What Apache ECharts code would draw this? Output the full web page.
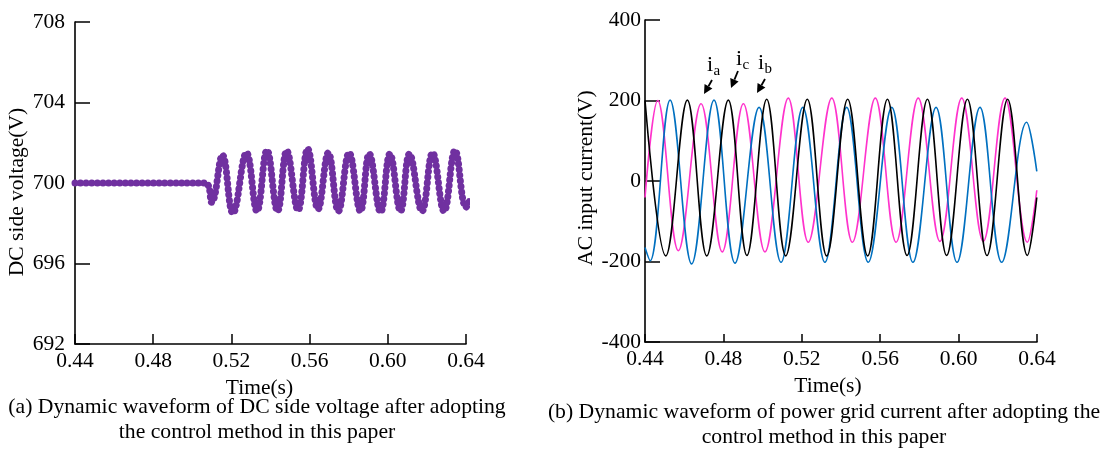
<!DOCTYPE html>
<html><head><meta charset="utf-8">
<script src="https://cdn.jsdelivr.net/npm/echarts@6/dist/echarts.min.js"></script>
<style>html,body{margin:0;padding:0;background:#fff}#c{width:1107px;height:450px}</style>
</head><body><div id="c"></div>
<script>
// ---------- data ----------
const xTickMin = 0.44, xTickMax = 0.64, xTickStep = 0.04;
// (a) DC side voltage
const dcTime = [0.4400,0.5065,0.5099,0.5154,0.5208,0.5277,0.5331,0.5382,0.5436,0.5483,0.5541,0.5590,0.5643,0.5696,0.5747,0.5802,0.5860,0.5905,0.5963,0.6011,0.6065,0.6111,0.6175,0.6229,0.6288,0.6344,0.6400,0.6420];
const dcVolt = [700.00,700.00,699.05,701.38,698.50,701.50,698.60,701.63,698.60,701.60,698.65,701.70,698.70,701.50,698.60,701.50,698.60,701.45,698.55,701.45,698.60,701.45,698.60,701.50,698.60,701.62,698.80,699.15];
// (b) grid currents
const iaTime = [0.4400,0.4465,0.4570,0.4686,0.4794,0.4902,0.5012,0.5131,0.5233,0.5353,0.5458,0.5575,0.5681,0.5794,0.5905,0.6016,0.6126,0.6237,0.6351,0.6399];
const iaVal  = [-41,200,-173,192,-176,192,-176,206,-152,206,-152,206,-152,206,-150,206,-150,206,-152,-23];
const ibTime = [0.4400,0.4426,0.4528,0.4638,0.4752,0.4859,0.4982,0.5094,0.5205,0.5318,0.5429,0.5539,0.5659,0.5767,0.5885,0.5992,0.6109,0.6220,0.6347,0.6399];
const ibVal  = [-165,-198,201,-206,201,-204,183,-202,183,-202,183,-202,183,-202,183,-202,183,-202,146,24];
const icTime = [0.4400,0.4506,0.4616,0.4715,0.4825,0.4920,0.5021,0.5118,0.5228,0.5327,0.5434,0.5536,0.5637,0.5737,0.5841,0.5939,0.6045,0.6145,0.6250,0.6351,0.6399];
const icVal  = [200,-186,201,-186,201,-185,203,-186,203,-186,203,-186,203,-185,203,-185,203,-185,203,-185,-41];

const zip = (a, b) => a.map((t, i) => [t, b[i]]);
const FONT = '"Liberation Serif","Times New Roman",serif';

function xAxisCfg(grid, tickLen, namePad) {
  return {
    gridIndex: grid, type: 'value', min: xTickMin, max: xTickMax, interval: xTickStep,
    axisLine: {onZero: false, lineStyle: {color: '#000', width: 1.6}},
    axisTick: {inside: true, length: tickLen, lineStyle: {color: '#000', width: 1.5}},
    axisLabel: {color: '#000', fontSize: 21.5, fontFamily: FONT, margin: 6, formatter: v => v.toFixed(2)},
    splitLine: {show: false},
    name: 'Time(s)', nameLocation: 'middle', nameGap: 28,
    nameTextStyle: {color: '#000', fontSize: 21.5, fontFamily: FONT, padding: [0, namePad, 0, 0]}
  };
}
function yAxisCfg(grid, min, max, step, name, margin, gap, pad) {
  return {
    gridIndex: grid, type: 'value', min: min, max: max, interval: step,
    axisLine: {onZero: false, lineStyle: {color: '#000', width: 1.6}},
    axisTick: {inside: true, length: 15, lineStyle: {color: '#000', width: 1.5}},
    axisLabel: {color: '#000', fontSize: 21.5, fontFamily: FONT, margin: margin},
    splitLine: {show: false},
    name: name, nameLocation: 'middle', nameGap: gap,
    nameTextStyle: {color: '#000', fontSize: 21.5, fontFamily: FONT, padding: pad}
  };
}

function arrow(x1, y1, x2, y2) {
  const ang = Math.atan2(y2 - y1, x2 - x1), L = 9, W = 4.5;
  const bx = x2 - L * Math.cos(ang), by = y2 - L * Math.sin(ang);
  const px = -Math.sin(ang) * W, py = Math.cos(ang) * W;
  return [
    {type: 'line', shape: {x1, y1, x2: bx, y2: by}, style: {stroke: '#000', lineWidth: 1.8}},
    {type: 'polygon', shape: {points: [[x2, y2], [bx + px, by + py], [bx - px, by - py]]}, style: {fill: '#000'}}
  ];
}
function label(x, y, main, sub) {
  return [
    {type: 'text', x: x, y: y, style: {text: main, font: '22px ' + FONT, fill: '#000', textVerticalAlign: 'bottom'}},
    {type: 'text', x: x + 6.5, y: y + 3, style: {text: sub, font: '15px ' + FONT, fill: '#000', textVerticalAlign: 'bottom'}}
  ];
}
function caption(cx, cy, txt) {
  return {type: 'text', x: cx, y: cy, style: {text: txt, font: '21.7px ' + FONT, fill: '#000', textAlign: 'center', textVerticalAlign: 'middle'}};
}

const chart = echarts.init(document.getElementById('c'), null, {renderer: 'canvas'});
chart.setOption({
  backgroundColor: '#fff',
  animation: false,
  grid: [
    {left: 75, top: 22, width: 391, height: 322},
    {left: 645, top: 20, width: 392, height: 322}
  ],
  xAxis: [xAxisCfg(0, 10, 22), xAxisCfg(1, 8, 26)],
  yAxis: [
    yAxisCfg(0, 692, 708, 4, 'DC side voltage(V)', 10, 36, [0, 18, 0, 0]),
    yAxisCfg(1, -400, 400, 200, 'AC input current(V)', 4, 38, [0, 0, 0, 6])
  ],
  series: [
    {type: 'line', xAxisIndex: 0, yAxisIndex: 0, data: zip(dcTime, dcVolt), smooth: 0.42, showSymbol: false, clip: false,
     lineStyle: {color: '#7030a0', width: 7, type: [0.1, 5.5], cap: 'round'}},
    {type: 'line', xAxisIndex: 1, yAxisIndex: 1, name: 'ia', data: zip(iaTime, iaVal), smooth: 0.38, showSymbol: false,
     lineStyle: {color: '#ff33cc', width: 1.6}},
    {type: 'line', xAxisIndex: 1, yAxisIndex: 1, name: 'ib', data: zip(ibTime, ibVal), smooth: 0.38, showSymbol: false,
     lineStyle: {color: '#0070c0', width: 1.6}},
    {type: 'line', xAxisIndex: 1, yAxisIndex: 1, name: 'ic', data: zip(icTime, icVal), smooth: 0.38, showSymbol: false,
     lineStyle: {color: '#000', width: 1.6}}
  ],
  graphic: [].concat(
    label(707, 76, 'i', 'a'), label(736, 70, 'i', 'c'), label(758, 74, 'i', 'b'),
    arrow(712, 80, 704, 94), arrow(738, 71, 731, 88), arrow(765, 79, 757, 93),
    [caption(257, 407, '(a) Dynamic waveform of DC side voltage after adopting'),
     caption(257, 432, 'the control method in this paper'),
     caption(824, 412, '(b) Dynamic waveform of power grid current after adopting the'),
     caption(824, 437, 'control method in this paper')]
  )
});
</script></body></html>
